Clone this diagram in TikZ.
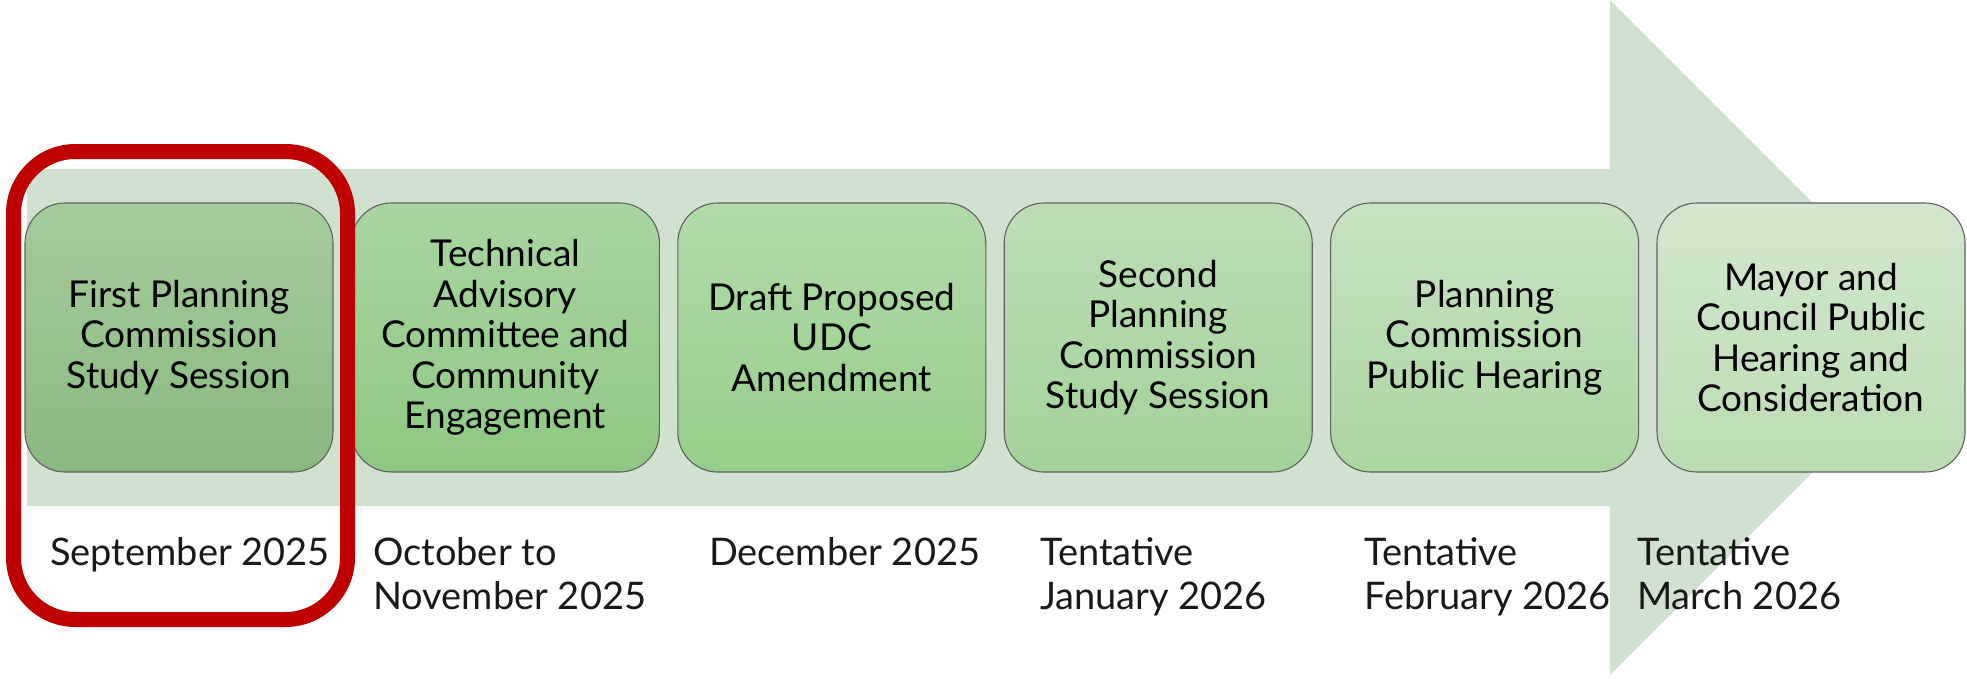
\documentclass[tikz,border=0pt]{standalone}
\usepackage{fontspec}
\setmainfont{Lato}
\begin{document}
\begin{tikzpicture}[x=1pt,y=-1pt,
  stepbox/.style={draw=black!62, line width=1.1pt, rounded corners=40pt,
    minimum width=308pt, minimum height=269pt, inner sep=0pt,
    align=center, text=black, font=\fontsize{37}{40.5}\selectfont},
  datelabel/.style={anchor=north west, inner sep=0pt, align=left,
    text=black!90, font=\fontsize{38}{44}\selectfont},
  highlight/.style={draw=red!75!black, line width=15pt, rounded corners=62pt}]
\useasboundingbox (0,0) rectangle (1967,678);

% background arrow
\fill[fill={rgb,255:red,208;green,226;blue,207}]
  (27,169) -- (1610,169) -- (1610,0) -- (1947.5,337.5)
  -- (1610,675) -- (1610,506) -- (27,506) -- cycle;

% process steps
\node[stepbox, top color={rgb,255:red,165;green,203;blue,156},
  bottom color={rgb,255:red,138;green,185;blue,128}]
  (s1) at (179,337.5) {First Planning\\Commission\\Study Session};
\node[stepbox, top color={rgb,255:red,168;green,213;blue,160},
  bottom color={rgb,255:red,142;green,200;blue,131}]
  (s2) at (505.4,337.5) {Technical\\Advisory\\Committee and\\Community\\Engagement};
\node[stepbox, top color={rgb,255:red,178;green,219;blue,169},
  bottom color={rgb,255:red,149;green,206;blue,137}]
  (s3) at (831.8,337.5) {Draft Proposed\\UDC\\Amendment};
\node[stepbox, top color={rgb,255:red,190;green,221;blue,183},
  bottom color={rgb,255:red,162;green,210;blue,152}]
  (s4) at (1158.2,337.5) {Second\\Planning\\Commission\\Study Session};
\node[stepbox, top color={rgb,255:red,201;green,226;blue,195},
  bottom color={rgb,255:red,170;green,213;blue,160}]
  (s5) at (1484.6,337.5) {Planning\\Commission\\Public Hearing};
\node[stepbox, top color={rgb,255:red,211;green,230;blue,207},
  bottom color={rgb,255:red,188;green,220;blue,179}]
  (s6) at (1811,337.5) {Mayor and\\Council Public\\Hearing and\\Consideration};

% dates
\node[datelabel] (d1) at (50,537) {September 2025};
\node[datelabel] (d2) at (373,537) {October to\\November 2025};
\node[datelabel] (d3) at (709,537) {December 2025};
\node[datelabel] (d4) at (1040,537) {Tentative\\January 2026};
\node[datelabel] (d5) at (1364,537) {Tentative\\February 2026};
\node[datelabel] (d6) at (1637,537) {Tentative\\March 2026};

% current step marker
\draw[highlight] (13.5,151.5) rectangle (347.5,619.5);
\end{tikzpicture}
\end{document}
